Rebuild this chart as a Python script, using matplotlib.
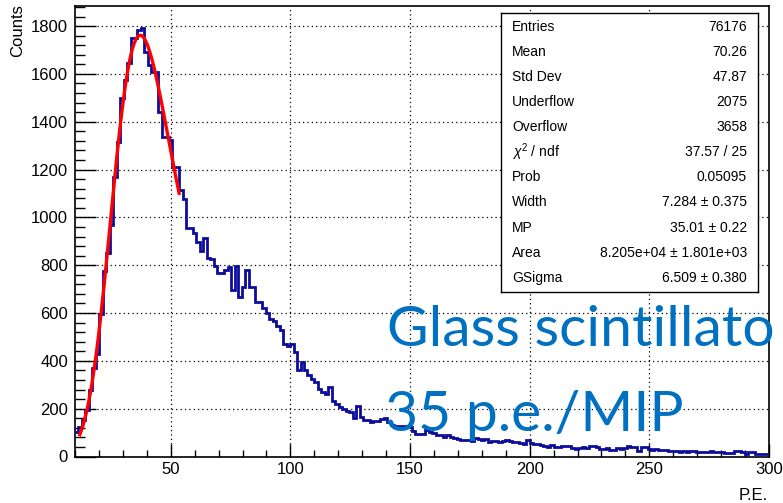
import numpy as np
import matplotlib
matplotlib.use("Agg")
import matplotlib.pyplot as plt
from matplotlib.ticker import MultipleLocator

# histogram: 200 bins between 10 and 300 P.E.
x_lo, x_hi, n_bins = 10, 300, 200
counts = [
    102, 123, 154, 193, 280, 372, 430, 598, 776, 852,
    970, 1169, 1316, 1500, 1575, 1645, 1752, 1752, 1785, 1794,
    1690, 1638, 1610, 1610, 1442, 1337, 1337, 1323, 1211, 1211,
    1114, 1075, 955, 957, 936, 898, 860, 912, 832, 824,
    796, 768, 768, 779, 793, 696, 796, 665, 710, 782,
    710, 710, 645, 645, 619, 601, 577, 567, 545, 531,
    470, 463, 472, 437, 362, 395, 360, 340, 325, 310,
    283, 268, 262, 290, 234, 221, 205, 198, 190, 186,
    159, 210, 165, 152, 152, 145, 149, 150, 155, 159,
    145, 132, 127, 124, 127, 127, 124, 106, 96, 96,
    96, 110, 104, 99, 90, 92, 83, 90, 80, 78,
    72, 70, 68, 70, 66, 79, 74, 70, 72, 62,
    66, 66, 60, 64, 68, 66, 62, 60, 58, 54,
    68, 58, 52, 52, 50, 42, 40, 48, 38, 38,
    44, 44, 43, 34, 30, 36, 40, 36, 42, 45,
    40, 33, 30, 34, 28, 29, 34, 33, 36, 42,
    40, 40, 22, 38, 38, 30, 28, 30, 29, 27,
    27, 22, 24, 23, 20, 22, 20, 21, 21, 19,
    19, 17, 19, 22, 20, 18, 20, 16, 16, 14,
    22, 25, 17, 12, 18, 19, 9, 10, 12, 10,
]

# Landau (x) Gauss fit parameters, as printed in the stats box
fit_width = 7.284
fit_mp = 35.01
fit_area = 8.205e4
fit_gsigma = 6.509
fit_range = (12.0, 53.5)

stat_labels = ["Entries", "Mean", "Std Dev", "Underflow", "Overflow",
               r"$\chi^2$ / ndf", "Prob", "Width", "MP", "Area", "GSigma"]
stat_values = ["76176", "70.26", "47.87", "2075", "3658", "37.57 / 25",
               "0.05095", "7.284 \u00b1 0.375", "35.01 \u00b1 0.22",
               "8.205e+04 \u00b1 1.801e+03", "6.509 \u00b1 0.380"]

edges = np.linspace(x_lo, x_hi, n_bins + 1)


def landau_pdf(lam):
    # standard Landau density from its characteristic function
    t = np.linspace(0, 40, 20001)
    tlt = np.where(t > 0, t * np.log(np.maximum(t, 1e-300)), 0.0)
    damp = np.exp(-np.pi * t / 2)
    out = np.empty_like(lam)
    for k, l in enumerate(lam):
        out[k] = np.trapezoid(damp * np.cos(l * t + tlt), t) / np.pi
    return out


def langaus(x, width, mp, area, gsigma):
    mpc = mp + 0.22278298 * width
    xx = np.arange(mp - 60, mp + 140, 0.1)
    land = landau_pdf((xx - mpc) / width) / width
    g = np.exp(-0.5 * ((x[:, None] - xx[None, :]) / gsigma) ** 2)
    g /= np.sqrt(2 * np.pi) * gsigma
    return area * (g * land[None, :]).sum(axis=1) * 0.1


W, H = 783, 503
plt.rcParams["font.family"] = ["Liberation Sans", "DejaVu Sans"]
plt.rcParams["mathtext.fontset"] = "custom"
plt.rcParams["mathtext.rm"] = "Liberation Sans"
plt.rcParams["mathtext.it"] = "Liberation Sans:italic"

fig = plt.figure(figsize=(W / 100, H / 100), dpi=100)
ax = fig.add_axes([75 / W, 1 - 456.5 / H, (769 - 75) / W, (456.5 - 6) / H])

ax.stairs(counts, edges, baseline=None, color="#0c0c9c", linewidth=2.0, zorder=3)

xf = np.linspace(fit_range[0], fit_range[1], 300)
ax.plot(xf, langaus(xf, fit_width, fit_mp, fit_area, fit_gsigma),
        color="#ff0000", linewidth=2.4, zorder=4)

ax.set_xlim(x_lo, x_hi)
ax.set_ylim(0, 1884)
ax.xaxis.set_major_locator(MultipleLocator(50))
ax.xaxis.set_minor_locator(MultipleLocator(10))
ax.yaxis.set_major_locator(MultipleLocator(200))
ax.yaxis.set_minor_locator(MultipleLocator(40))
ax.grid(True, which="major", color="black", linestyle=(0, (1, 2.5)), linewidth=0.9)
ax.set_axisbelow(True)
ax.tick_params(axis="y", which="major", direction="in", length=15, width=1, labelsize=12, pad=5)
ax.tick_params(axis="y", which="minor", direction="in", length=7.5, width=1)
ax.tick_params(axis="x", which="major", direction="in", length=9.4, width=1, labelsize=12, pad=4)
ax.tick_params(axis="x", which="minor", direction="in", length=4.7, width=1)
for s in ax.spines.values():
    s.set_linewidth(1.2)
    s.set_color("black")

fig.text(17.5 / W, 1 - 4 / H, "Counts", rotation=90, ha="center", va="top", fontsize=12)
fig.text(768 / W, 1 - 500 / H, "P.E.", ha="right", va="baseline", fontsize=12)

# stats box
box = fig.add_axes([501 / W, 1 - 292 / H, (758 - 501) / W, (292 - 12.7) / H])
box.set_xticks([])
box.set_yticks([])
box.set_facecolor("white")
for s in box.spines.values():
    s.set_linewidth(1)
for k, (lab, val) in enumerate(zip(stat_labels, stat_values)):
    yy = (292 - (26.7 + 25.1 * k)) / (292 - 12.7)
    box.text(0.043, yy, lab, ha="left", va="center", fontsize=10, transform=box.transAxes)
    box.text(0.957, yy, val, ha="right", va="center", fontsize=10, transform=box.transAxes)

# overlay annotation
fig.text(387 / W, 1 - 346 / H, "Glass scintillato", color="#0070c0",
         fontsize=41, family="Lato", ha="left", va="baseline")
fig.text(385 / W, 1 - 431 / H, "35 p.e./MIP", color="#0070c0",
         fontsize=41, family="Lato", ha="left", va="baseline")

fig.savefig("out.png", dpi=100)
